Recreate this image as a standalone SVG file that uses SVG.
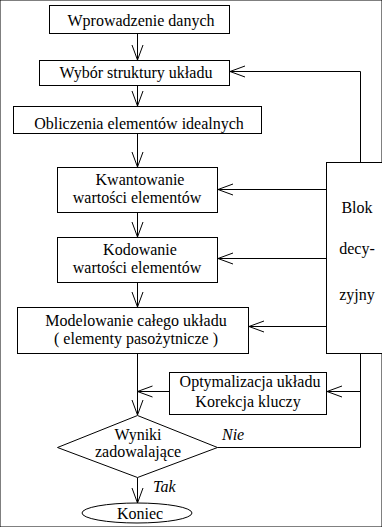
<svg xmlns="http://www.w3.org/2000/svg" width="382" height="527" viewBox="0 0 382 527">
<defs>
<marker id="ah" markerUnits="userSpaceOnUse" markerWidth="20" markerHeight="14" refX="16" refY="7" orient="auto">
<path d="M1,1.5 L16,7 L1,12.5" fill="none" stroke="#000" stroke-width="1"/>
</marker>
<style>
rect,polygon,ellipse{fill:#fff;stroke:#000;stroke-width:1}
.c line,.c polyline{stroke:#000;stroke-width:1;fill:none}
.a{marker-end:url(#ah)}
text{font-family:'Liberation Serif','DejaVu Serif',serif;font-size:16px;fill:#000;text-anchor:middle}
.i{font-style:italic;text-anchor:start}
</style>
</defs>
<rect width="382" height="527" fill="#fff" stroke="none"/>
<g class="c" id="connectors">
<line class="a" x1="137.5" y1="33.5" x2="137.5" y2="60"/>
<line class="a" x1="137.5" y1="85.5" x2="137.5" y2="106"/>
<line class="a" x1="137.5" y1="133.5" x2="137.5" y2="167"/>
<line class="a" x1="137.5" y1="212.5" x2="137.5" y2="237"/>
<line class="a" x1="137.5" y1="282.5" x2="137.5" y2="307"/>
<line x1="137.5" y1="353.5" x2="137.5" y2="391.5"/>
<line class="a" x1="137.5" y1="391.5" x2="137.5" y2="415"/>
<line class="a" x1="169.5" y1="391.5" x2="137.5" y2="391.5"/>
<polyline class="a" points="360.5,162.5 360.5,71.5 230,71.5"/>
<line class="a" x1="326.5" y1="189.5" x2="218" y2="189.5"/>
<line class="a" x1="326.5" y1="258.5" x2="218" y2="258.5"/>
<line class="a" x1="326.5" y1="326.5" x2="249" y2="326.5"/>
<polyline points="360.5,353.5 360.5,447.5 217.5,447.5"/>
<line class="a" x1="360.5" y1="391.5" x2="327" y2="391.5"/>
<line class="a" x1="137.5" y1="477.5" x2="137.5" y2="503"/>
<text class="i" x="222" y="440">Nie</text>
<text class="i" x="153" y="492">Tak</text>
</g>
<g id="n1"><rect x="49.5" y="5.5" width="180" height="28"/><text x="141" y="26">Wprowadzenie danych</text></g>
<g id="n2"><rect x="39.5" y="60.5" width="190" height="25"/><text x="136" y="78">Wybór struktury układu</text></g>
<g id="n3"><rect x="13.5" y="106.5" width="248" height="27"/><text x="139" y="129">Obliczenia elementów idealnych</text></g>
<g id="n4"><rect x="57.5" y="167.5" width="160" height="45"/><text x="140" y="185">Kwantowanie</text><text x="137" y="203">wartości elementów</text></g>
<g id="n5"><rect x="57.5" y="237.5" width="160" height="45"/><text x="140" y="255">Kodowanie</text><text x="137" y="273">wartości elementów</text></g>
<g id="n6"><rect x="17.5" y="307.5" width="231" height="46"/><text x="136" y="326">Modelowanie całego układu</text><text x="136" y="344">( elementy pasożytnicze )</text></g>
<g id="blok"><rect x="326.5" y="162.5" width="60" height="191"/><text x="357" y="213">Blok</text><text x="357" y="254">decy-</text><text x="357" y="300">zyjny</text></g>
<g id="opt"><rect x="169.5" y="372.5" width="157" height="42"/><text x="250" y="387">Optymalizacja układu</text><text x="248" y="407">Korekcja kluczy</text></g>
<g id="dec"><polygon points="137.5,415.5 217.5,447.5 137.5,477.5 57.5,447.5"/><text x="138" y="440">Wyniki</text><text x="138" y="457">zadowalające</text></g>
<g id="end"><ellipse cx="137" cy="513" rx="55" ry="10"/><text x="140" y="519">Koniec</text></g>
</svg>
